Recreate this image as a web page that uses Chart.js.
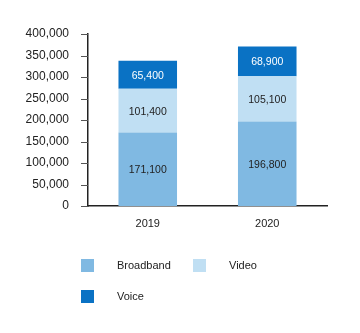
<!DOCTYPE html>
<html>
<head>
<meta charset="utf-8">
<script src="https://cdn.jsdelivr.net/npm/chart.js@4"></script>
<style>
  html, body { margin: 0; padding: 0; background: #fff; }
  #wrap { width: 360px; height: 333px; position: relative; }
</style>
</head>
<body>
<div id="wrap"><canvas id="chart"></canvas></div>
<script>
const years = ['2019', '2020'];
const broadband = [171100, 196800];
const video = [101400, 105100];
const voice = [65400, 68900];
const yTicks = [0, 50000, 100000, 150000, 200000, 250000, 300000, 350000, 400000];

const FONT = "'Liberation Sans', Arial, Helvetica, sans-serif";
const fmt = v => v.toLocaleString('en-US');

// value labels inside each stacked segment
const segLabels = {
  id: 'segLabels',
  afterDatasetsDraw(chart) {
    const ctx = chart.ctx;
    ctx.save();
    ctx.font = '10.5px ' + FONT;
    ctx.textAlign = 'center';
    ctx.textBaseline = 'middle';
    chart.data.datasets.forEach((ds, i) => {
      chart.getDatasetMeta(i).data.forEach((bar, j) => {
        const p = bar.getProps(['x', 'y', 'base'], true);
        ctx.fillStyle = ds.labelColor;
        ctx.fillText(fmt(ds.data[j]), p.x, (p.y + p.base) / 2 + 1);
      });
    });
    ctx.restore();
  }
};

// short tick marks left of the y axis
const yTickMarks = {
  id: 'yTickMarks',
  afterDraw(chart) {
    const ctx = chart.ctx;
    const ys = chart.scales.y;
    ctx.save();
    ctx.strokeStyle = '#555';
    ctx.lineWidth = 1;
    ys.ticks.forEach(t => {
      const py = Math.round(ys.getPixelForValue(t.value)) + 0.5;
      ctx.beginPath();
      ctx.moveTo(ys.right - 7, py);
      ctx.lineTo(ys.right, py);
      ctx.stroke();
    });
    ctx.restore();
  }
};

// two-column legend under the plot
const boxLegend = {
  id: 'boxLegend',
  afterDraw(chart) {
    const ctx = chart.ctx;
    const spots = [[81, 259], [193, 259], [81, 290]];
    ctx.save();
    ctx.font = '11px ' + FONT;
    ctx.textBaseline = 'middle';
    chart.data.datasets.forEach((ds, i) => {
      const [x, y] = spots[i];
      ctx.fillStyle = ds.backgroundColor;
      ctx.fillRect(x, y, 13, 13);
      ctx.fillStyle = '#222';
      ctx.fillText(ds.label, x + 36, y + 7);
    });
    ctx.restore();
  }
};

new Chart(document.getElementById('chart'), {
  type: 'bar',
  data: {
    labels: years,
    datasets: [
      { label: 'Broadband', data: broadband, backgroundColor: '#80b9e2', labelColor: '#222' },
      { label: 'Video', data: video, backgroundColor: '#c0dff3', labelColor: '#222' },
      { label: 'Voice', data: voice, backgroundColor: '#0a72c4', labelColor: '#fff' }
    ]
  },
  options: {
    responsive: true,
    maintainAspectRatio: false,
    animation: false,
    barPercentage: 0.98,
    categoryPercentage: 0.5,
    layout: { padding: { top: 34, right: 33, bottom: 97, left: 0 } },
    plugins: { legend: { display: false }, tooltip: { enabled: false } },
    scales: {
      x: {
        stacked: true,
        grid: { display: false, drawTicks: false },
        border: { display: true, color: '#222', width: 1.5 },
        ticks: { color: '#222', font: { family: FONT, size: 11 }, padding: 11 },
        afterFit(scale) { scale.height = 30; }
      },
      y: {
        stacked: true,
        min: 0,
        max: 400000,
        afterBuildTicks(scale) { scale.ticks = yTicks.map(v => ({ value: v })); },
        grid: { display: false, drawTicks: true, tickLength: 7 },
        border: { display: true, color: '#222', width: 1.5 },
        ticks: { color: '#222', font: { family: FONT, size: 12 }, padding: 12, callback: v => fmt(v) },
        afterFit(scale) { scale.width = 88; }
      }
    }
  },
  plugins: [segLabels, yTickMarks, boxLegend]
});
</script>
</body>
</html>
